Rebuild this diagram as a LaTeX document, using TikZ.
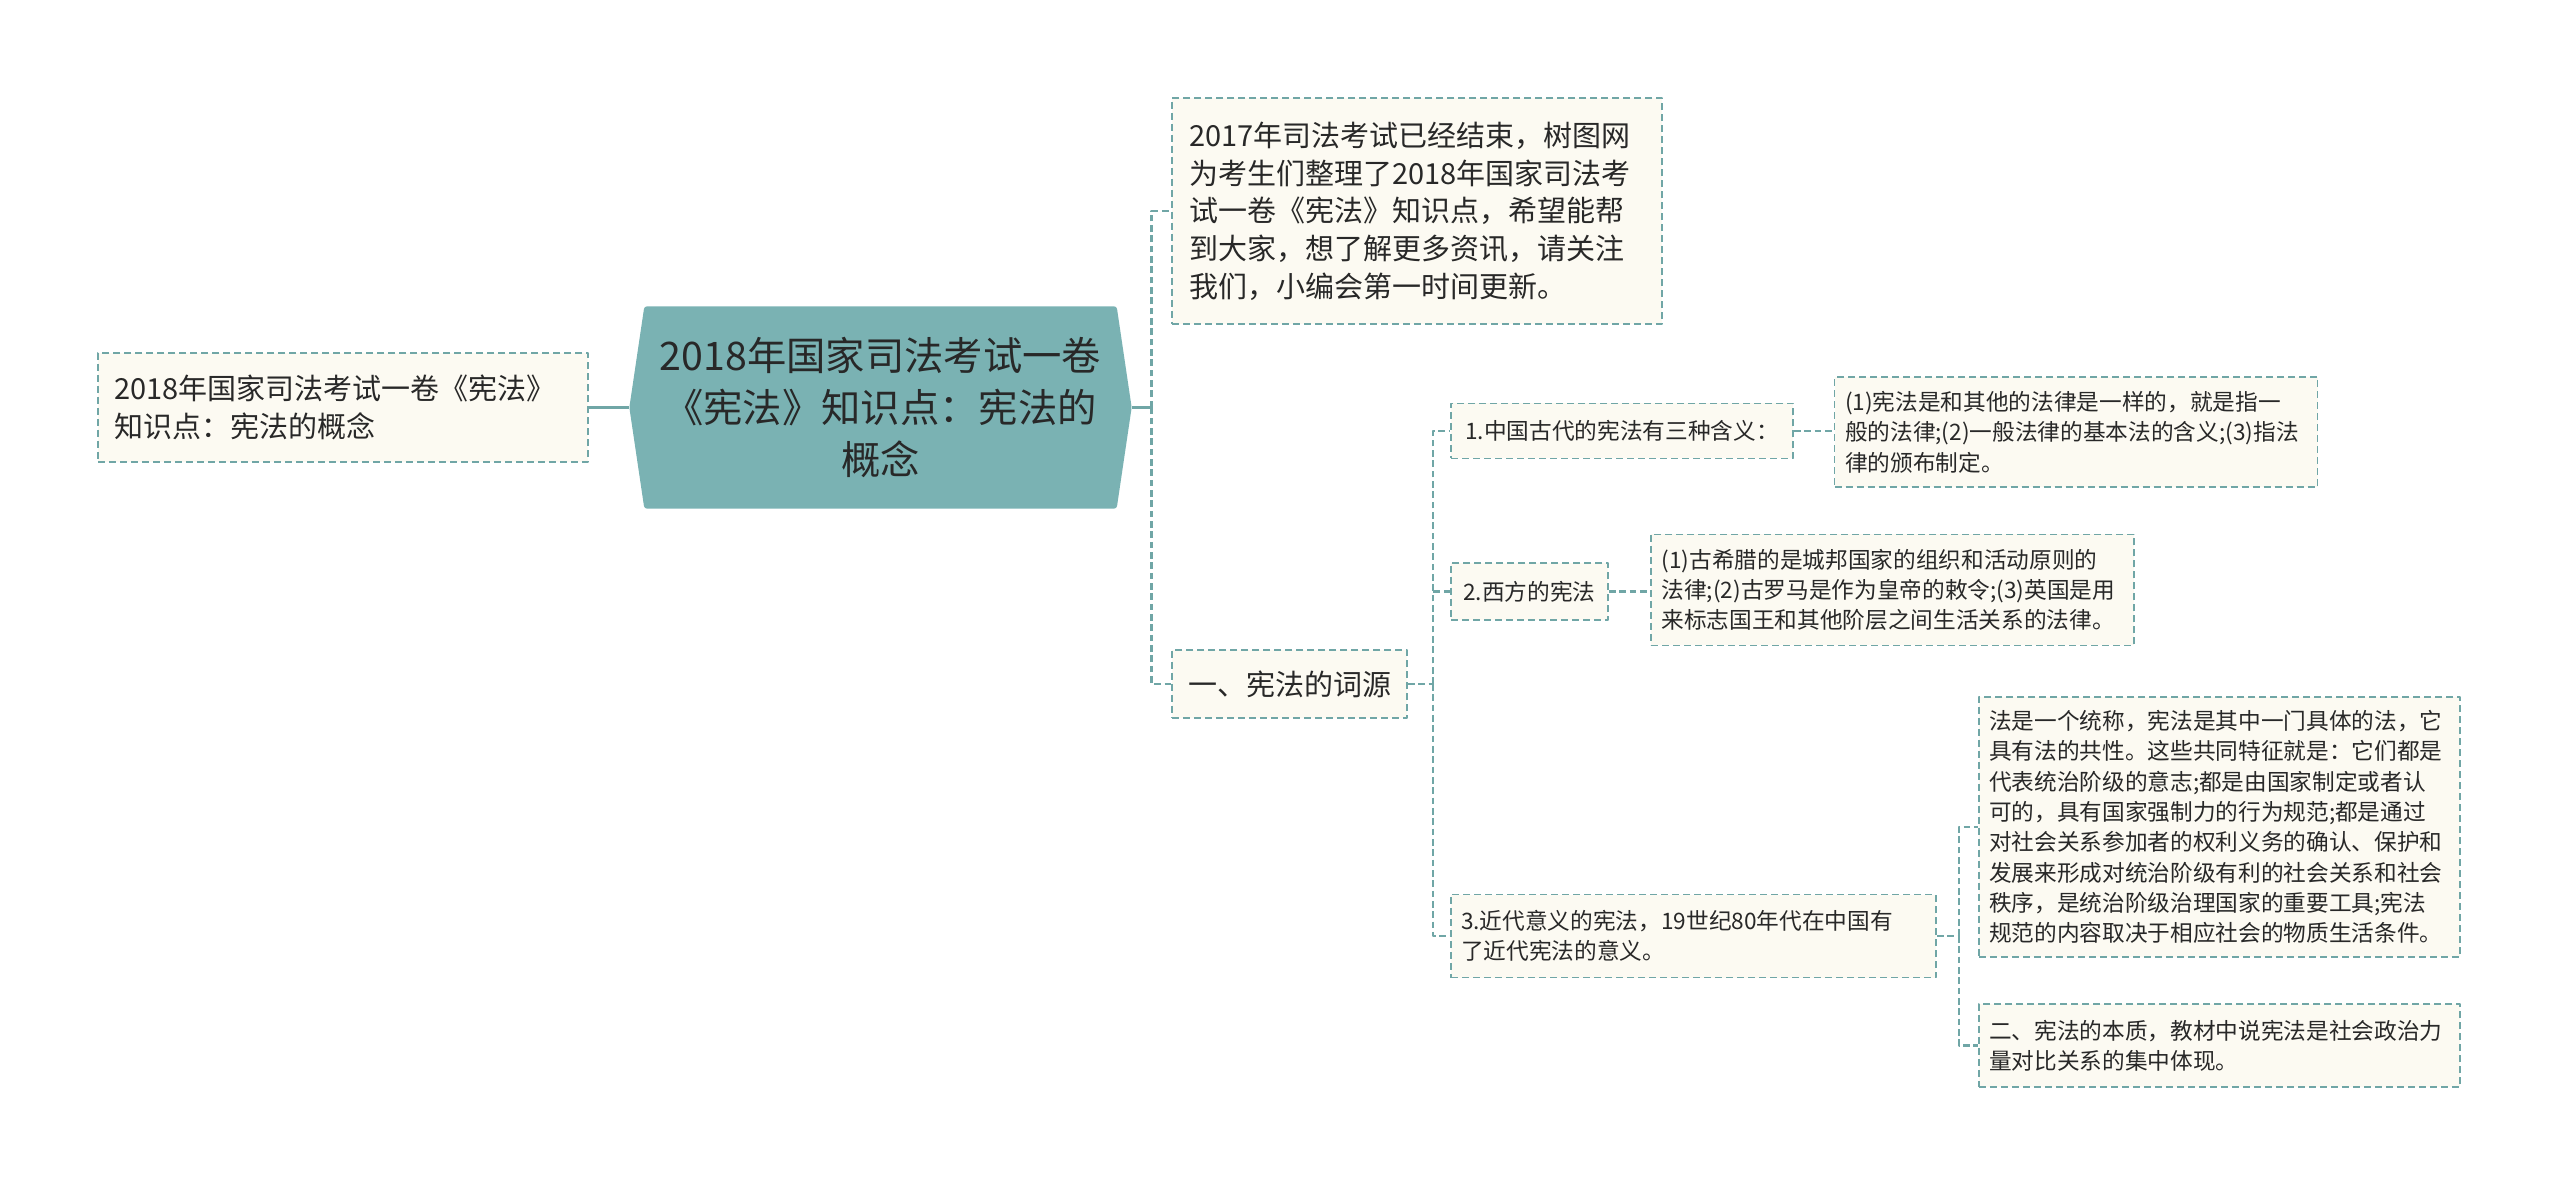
\documentclass[tikz,border=0pt]{standalone}
\usepackage{fontspec}
\setmainfont{Noto Sans CJK SC}
\usetikzlibrary{backgrounds}
\definecolor{tealline}{RGB}{112,166,166}
\definecolor{tealfill}{RGB}{122,178,179}
\definecolor{creambg}{RGB}{252,250,242}
\definecolor{inkgray}{RGB}{40,40,40}

\begin{document}
\begin{tikzpicture}[x=0.3pt,y=-0.3pt,line cap=butt,line join=round,
  box/.style={draw=tealline,fill=creambg,line width=0.55pt,dash pattern=on 2.1pt off 1.2pt,inner sep=0pt,text=inkgray},
  plainbox/.style={box,font=\fontsize{8.7}{11.3}\selectfont},
  smallbox/.style={box,font=\fontsize{6.8}{9.1}\selectfont},
  link/.style={draw=tealline,line width=0.75pt,dash pattern=on 2pt off 1.1pt},
  trunk/.style={draw=tealline,line width=0.8pt}]
\useasboundingbox (0,0) rectangle (2560,1187);
% root and topic
\node[plainbox,minimum width=147pt,minimum height=32.7pt,text width=137.4pt,align=left] (root) at (343,407.5) {2018年国家司法考试一卷《宪法》\\知识点：宪法的概念};
\node[minimum width=150.3pt,minimum height=60.3pt,text width=141pt,align=center,inner sep=0pt,text=inkgray,font=\fontsize{11.8}{15.6}\selectfont] (topic) at (880.5,407.5) {2018年国家司法考试一卷\\《宪法》知识点：宪法的\\概念};
\begin{scope}[on background layer]
\fill[tealfill,rounded corners=0.8pt] ([xshift=4.5pt]topic.north west) -- ([xshift=-4.5pt]topic.north east) -- (topic.east) -- ([xshift=-4.5pt]topic.south east) -- ([xshift=4.5pt]topic.south west) -- (topic.west) -- cycle;
\end{scope}
% first level
\node[plainbox,minimum width=147pt,minimum height=67.8pt,text width=136.8pt,align=left] (intro) at (1417,211) {2017年司法考试已经结束，树图网\\为考生们整理了2018年国家司法考\\试一卷《宪法》知识点，希望能帮\\到大家，想了解更多资讯，请关注\\我们，小编会第一时间更新。};
\node[plainbox,minimum width=70.5pt,minimum height=20.4pt,align=center] (etym) at (1289.5,684) {一、宪法的词源};
% second level
\node[smallbox,minimum width=102.6pt,minimum height=16.5pt,align=center] (ancient) at (1622,431) {1.中国古代的宪法有三种含义：};
\node[smallbox,minimum width=144.9pt,minimum height=33pt,text width=138.6pt,align=left] (ancientdef) at (2076,432) {(1)宪法是和其他的法律是一样的，就是指一\\般的法律;(2)一般法律的基本法的含义;(3)指法\\律的颁布制定。};
\node[smallbox,minimum width=47.1pt,minimum height=17.1pt,align=center] (west) at (1529.5,591.5) {2.西方的宪法};
\node[smallbox,minimum width=144.9pt,minimum height=33.3pt,text width=138.6pt,align=left] (westdef) at (1892.5,590) {(1)古希腊的是城邦国家的组织和活动原则的\\法律;(2)古罗马是作为皇帝的敕令;(3)英国是用\\来标志国王和其他阶层之间生活关系的法律。};
\node[smallbox,minimum width=145.5pt,minimum height=24.9pt,text width=139.5pt,align=left] (modern) at (1693.5,936) {3.近代意义的宪法，19世纪80年代在中国有\\了近代宪法的意义。};
\node[smallbox,minimum width=144.3pt,minimum height=78pt,text width=138.3pt,align=left] (nature) at (2219.5,827) {法是一个统称，宪法是其中一门具体的法，它\\具有法的共性。这些共同特征就是：它们都是\\代表统治阶级的意志;都是由国家制定或者认\\可的，具有国家强制力的行为规范;都是通过\\对社会关系参加者的权利义务的确认、保护和\\发展来形成对统治阶级有利的社会关系和社会\\秩序，是统治阶级治理国家的重要工具;宪法\\规范的内容取决于相应社会的物质生活条件。};
\node[smallbox,minimum width=144.3pt,minimum height=24.9pt,text width=138.3pt,align=left] (essence) at (2219.5,1045.5) {二、宪法的本质，教材中说宪法是社会政治力\\量对比关系的集中体现。};
% connectors
\draw[trunk] (root.east) -- (topic.west);
\draw[trunk] (topic.east) -- ++(20,0) coordinate (forkA);
\draw[link] (forkA) |- (intro.west);
\draw[link] (forkA) |- (etym.west);
\draw[link] (etym.east) -- ++(25,0) coordinate (forkB);
\draw[link] (forkB) |- (ancient.west);
\draw[link] (forkB) |- (west.west);
\draw[link] (forkB) |- (modern.west);
\draw[link] (ancient.east) -- (ancientdef.west |- ancient.east);
\draw[link] (west.east) -- (westdef.west |- west.east);
\draw[link] (modern.east) -- ++(22,0) coordinate (forkC);
\draw[link] (forkC) |- (nature.west);
\draw[link] (forkC) |- (essence.west);
\end{tikzpicture}
\end{document}
